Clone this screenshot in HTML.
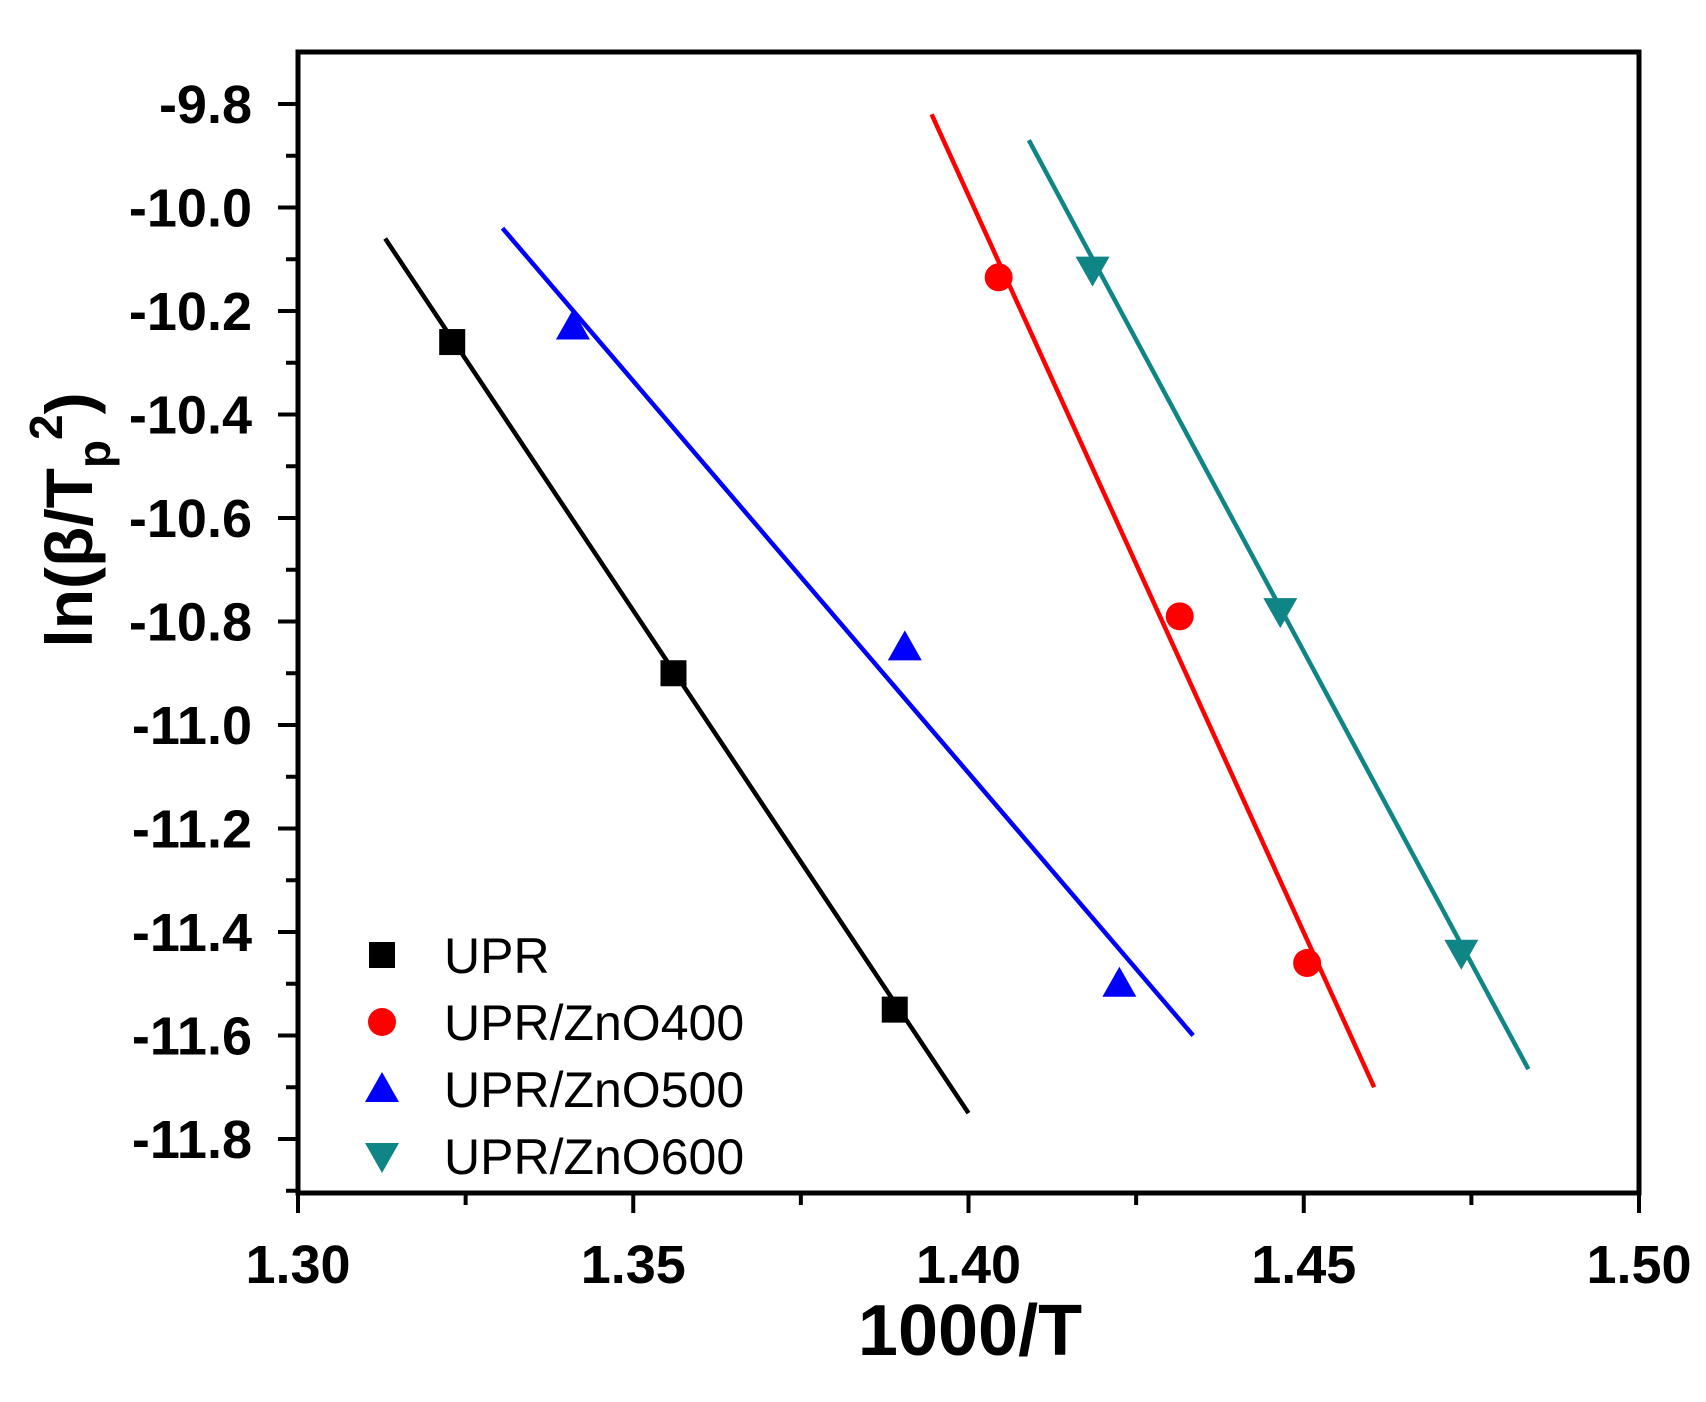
<!DOCTYPE html>
<html><head><meta charset="utf-8"><style>
html,body{margin:0;padding:0;background:#fff;}
svg{display:block;font-family:"Liberation Sans",Arial,sans-serif;font-weight:bold;}
</style></head><body>
<svg id="s" width="1706" height="1402" viewBox="0 0 1706 1402" xmlns="http://www.w3.org/2000/svg"></svg>
<script>
const s=document.getElementById('s');
const X=v=>298+(v-1.30)/0.2*(1639-298);
const Y=v=>104+(-9.8-v)/0.2*103.5;
let h='';
h+=`<rect x="298" y="52" width="1341" height="1141" fill="none" stroke="#000" stroke-width="5"/>`;
for(let i=0;i<=8;i++){const v=1.30+i*0.025,x=X(v),maj=i%2==0;
 h+=`<line x1="${x}" y1="1193" x2="${x}" y2="${1193+(maj?20:12)}" stroke="#000" stroke-width="4"/>`;
 if(maj)h+=`<text x="${x}" y="1283" font-size="54" text-anchor="middle">${v.toFixed(2)}</text>`;}
for(let i=-1;i<=21;i++){const v=-9.8-i*0.1,y=Y(v);if(y<54||y>1191)continue;const maj=i%2==0;
 h+=`<line x1="298" y1="${y}" x2="${298-(maj?20:12)}" y2="${y}" stroke="#000" stroke-width="4"/>`;
 if(maj)h+=`<text x="252" y="${y+19}" font-size="54" text-anchor="end">${v.toFixed(1)}</text>`;}
h+=`<text x="970" y="1355" font-size="72" text-anchor="middle">1000/T</text>`;
h+=`<text transform="translate(92,520) rotate(-90)" font-size="66" text-anchor="middle">ln(β/T<tspan font-size="46" dy="18">p</tspan><tspan font-size="46" dy="-48">2</tspan><tspan dy="30">)</tspan></text>`;
const S=[
 {c:'#000',m:'sq',pts:[[1.323,-10.26],[1.356,-10.90],[1.389,-11.55]],ln:[[1.313,-10.06],[1.400,-11.75]],n:'UPR'},
 {c:'#ff0000',m:'ci',pts:[[1.4045,-10.135],[1.4315,-10.79],[1.4505,-11.46]],ln:[[1.3945,-9.82],[1.4605,-11.70]],n:'UPR/ZnO400'},
 {c:'#0000ff',m:'up',pts:[[1.341,-10.23],[1.3905,-10.85],[1.4225,-11.50]],ln:[[1.3305,-10.04],[1.4335,-11.60]],n:'UPR/ZnO500'},
 {c:'#108585',m:'dn',pts:[[1.4185,-10.12],[1.4465,-10.78],[1.4735,-11.44]],ln:[[1.409,-9.87],[1.4835,-11.665]],n:'UPR/ZnO600'}];
function mk(m,x,y,c){const r=14;
 if(m=='sq')return `<rect x="${x-r+1}" y="${y-r+1}" width="${2*r-2}" height="${2*r-2}" fill="${c}"/>`;
 if(m=='ci')return `<circle cx="${x}" cy="${y}" r="${r}" fill="${c}"/>`;
 if(m=='up')return `<polygon points="${x},${y-r-3} ${x+r+3},${y+r-1} ${x-r-3},${y+r-1}" fill="${c}"/>`;
 return `<polygon points="${x},${y+r+3} ${x+r+3},${y-r+1} ${x-r-3},${y-r+1}" fill="${c}"/>`;}
S.forEach((o,i)=>{
 h+=`<line x1="${X(o.ln[0][0])}" y1="${Y(o.ln[0][1])}" x2="${X(o.ln[1][0])}" y2="${Y(o.ln[1][1])}" stroke="${o.c}" stroke-width="4.5"/>`;
 o.pts.forEach(p=>h+=mk(o.m,X(p[0]),Y(p[1]),o.c));
 const ly=955+i*67;
 h+=mk(o.m,382,ly,o.c);
 h+=`<text x="444" y="${ly+18}" font-size="50" font-weight="normal">${o.n}</text>`;
});
s.innerHTML=h;
</script>
</body></html>
